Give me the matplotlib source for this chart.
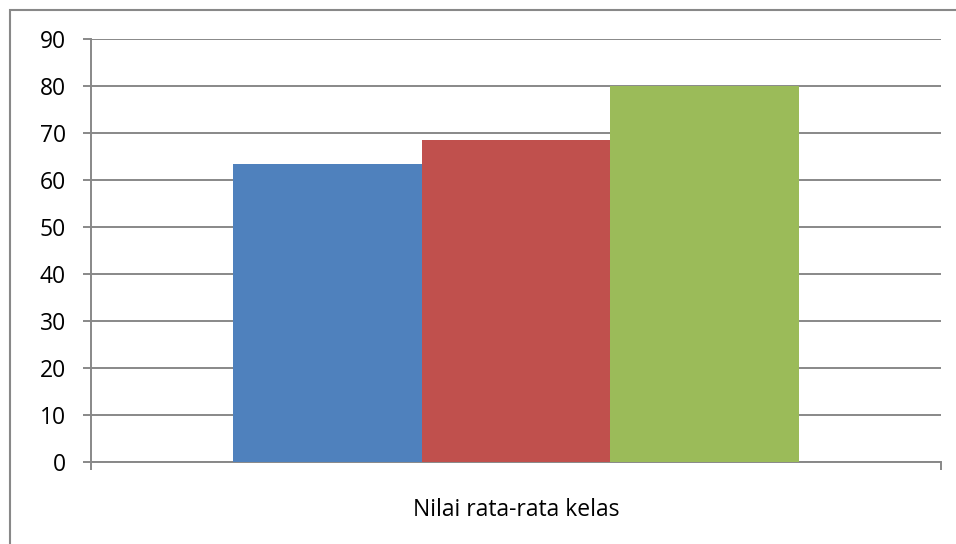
import matplotlib
matplotlib.use("Agg")
import matplotlib.pyplot as plt
from matplotlib.patches import Rectangle

category = "Nilai rata-rata kelas"
series_names = ["Seri 1", "Seri 2", "Seri 3"]
values = [63.4, 68.5, 80.0]
colors = ["#4F81BD", "#C0504D", "#9BBB59"]
yticks = [0, 10, 20, 30, 40, 50, 60, 70, 80, 90]

plt.rcParams['font.family'] = ['Open Sans', 'DejaVu Sans']

fig = plt.figure(figsize=(9.56, 5.44), dpi=100)
fig.patch.set_facecolor("white")
ax = fig.add_axes([91/956, 1-462/544, 850/956, 423/544])

n = len(values)
w = 0.666 / n
offs = [(i - (n - 1) / 2) * w for i in range(n)]
for o, v, c, s in zip(offs, values, colors, series_names):
    ax.bar(o, v, width=w, color=c, label=s, zorder=3)

gray = "#888888"
ax.set_xlim(-0.5, 0.5)
ax.set_ylim(0, 90)
ax.set_yticks(yticks)
ax.set_yticklabels([str(t) for t in yticks], fontsize=16.5, color="black")
ax.yaxis.grid(True, color=gray, linewidth=1.4, zorder=0)
ax.set_axisbelow(True)
ax.tick_params(axis='y', length=6, width=1.4, color=gray, pad=12)

ax.set_xticks([-0.5, 0.5])
ax.set_xticklabels(["", ""])
ax.set_xticks([0], minor=True)
ax.set_xticklabels([category], minor=True, fontsize=16.5)
ax.tick_params(axis='x', which='major', length=6, width=1.4, color=gray)
ax.tick_params(axis='x', which='minor', length=0, pad=26)

for sp in ["top", "right"]:
    ax.spines[sp].set_visible(False)
for sp in ["left", "bottom"]:
    ax.spines[sp].set_color(gray)
    ax.spines[sp].set_linewidth(1.4)

# outer chart frame
fig.patches.append(Rectangle((10/956, -0.1), 1.2, 1 - 10/544 + 0.1,
                             transform=fig.transFigure, fill=False,
                             edgecolor=gray, linewidth=1.5))

fig.savefig("out.png", dpi=100)
